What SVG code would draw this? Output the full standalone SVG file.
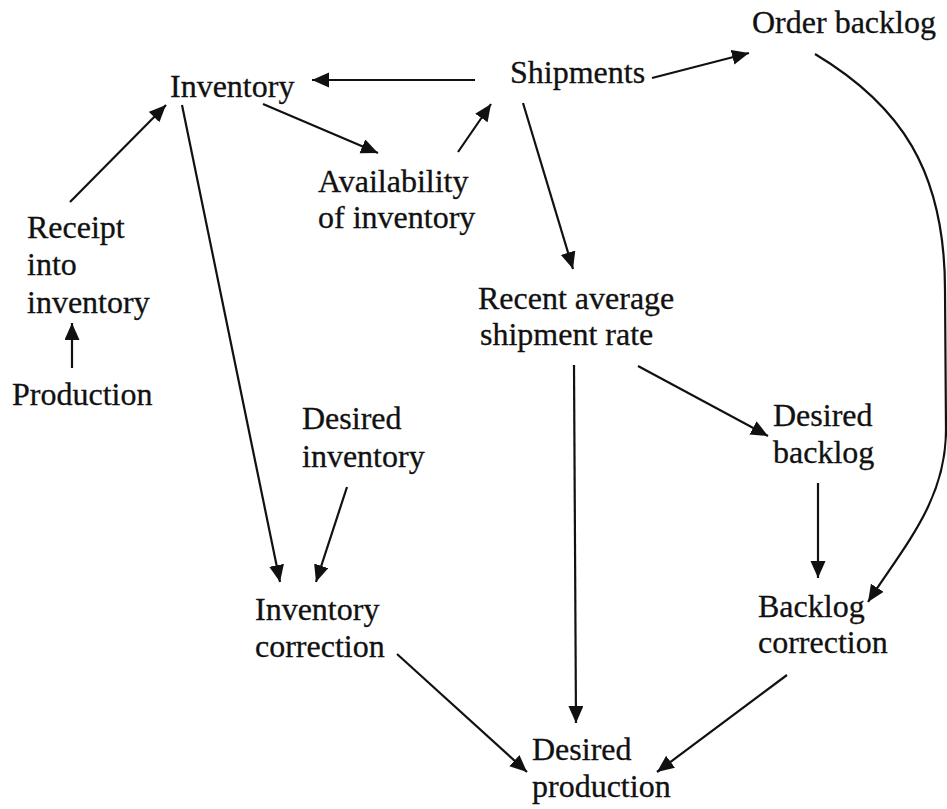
<svg xmlns="http://www.w3.org/2000/svg" width="947" height="809" viewBox="0 0 947 809">
  <defs>
    <marker id="arrow" markerUnits="userSpaceOnUse" markerWidth="18" markerHeight="16" refX="17" refY="7.5" orient="auto">
      <path d="M0,0 L17,7.5 L0,15 z" fill="#111"/>
    </marker>
    <style>
      text { font-family: "Liberation Serif", "Times New Roman", serif; font-size: 32px; fill: #111; stroke: #111; stroke-width: 0.3; }
      .link { stroke: #111; stroke-width: 2.2; fill: none; marker-end: url(#arrow); }
    </style>
  </defs>
  <rect width="947" height="809" fill="#fff"/>

  <!-- variables -->
  <g id="inventory"><text x="170" y="97">Inventory</text></g>
  <g id="shipments"><text x="510" y="83">Shipments</text></g>
  <g id="order-backlog"><text x="752" y="33">Order backlog</text></g>
  <g id="availability"><text x="318" y="192">Availability</text><text x="318" y="228">of inventory</text></g>
  <g id="receipt"><text x="27" y="238">Receipt</text><text x="27" y="275">into</text><text x="27" y="313">inventory</text></g>
  <g id="production"><text x="12" y="405">Production</text></g>
  <g id="recent-shipment-rate"><text x="478" y="309">Recent average</text><text x="480" y="345">shipment rate</text></g>
  <g id="desired-inventory"><text x="302" y="429">Desired</text><text x="302" y="467">inventory</text></g>
  <g id="desired-backlog"><text x="773" y="426">Desired</text><text x="773" y="463">backlog</text></g>
  <g id="inventory-correction"><text x="255" y="620">Inventory</text><text x="255" y="657">correction</text></g>
  <g id="backlog-correction"><text x="758" y="617">Backlog</text><text x="758" y="653">correction</text></g>
  <g id="desired-production"><text x="532" y="760">Desired</text><text x="532" y="797">production</text></g>

  <!-- causal links -->
  <g id="connectors">
    <line class="link" x1="475" y1="80" x2="312" y2="80"/>
    <line class="link" x1="263" y1="104" x2="378" y2="153"/>
    <line class="link" x1="458" y1="152" x2="491" y2="104"/>
    <line class="link" x1="652" y1="78" x2="749" y2="53"/>
    <line class="link" x1="523" y1="103" x2="573" y2="269"/>
    <line class="link" x1="70" y1="202" x2="166" y2="105"/>
    <line class="link" x1="72" y1="368" x2="72" y2="323"/>
    <line class="link" x1="182" y1="105" x2="280" y2="582"/>
    <line class="link" x1="347" y1="487" x2="316" y2="582"/>
    <line class="link" x1="574" y1="365" x2="576" y2="723"/>
    <line class="link" x1="638" y1="366" x2="768" y2="436"/>
    <line class="link" x1="818" y1="483" x2="818" y2="578"/>
    <line class="link" x1="397" y1="654" x2="527" y2="772"/>
    <line class="link" x1="787" y1="675" x2="657" y2="772"/>
    <path class="link" d="M815,54 C900,105 945,170 945,290 L946,430 C946,500 905,545 868,602"/>
  </g>
</svg>
